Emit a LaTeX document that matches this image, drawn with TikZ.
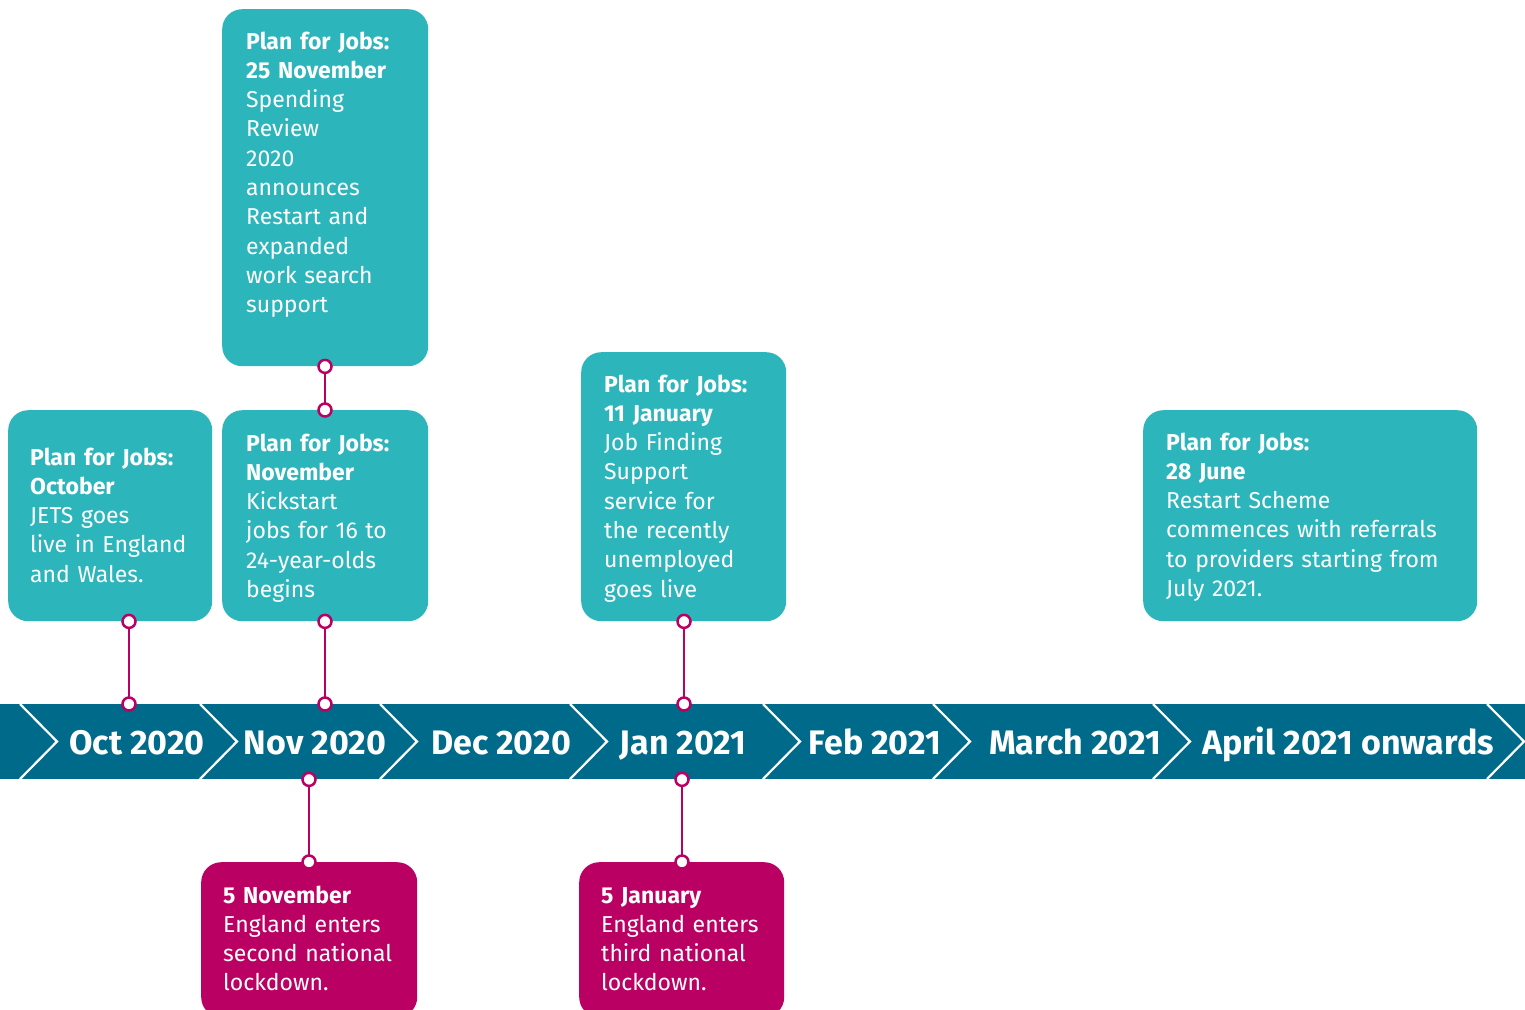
\documentclass[tikz,border=0pt]{standalone}
\usepackage{fontspec}
\setmainfont{Fira Sans}
\definecolor{boxteal}{HTML}{2DB5BC}
\definecolor{bandblue}{HTML}{006A8A}
\definecolor{mag}{HTML}{BA0062}
\begin{document}
\begin{tikzpicture}[x=1pt,y=-1pt,
  box/.style={fill=boxteal, draw=none, rounded corners=20pt, anchor=north west, inner sep=0pt},
  redbox/.style={fill=mag, draw=none, rounded corners=20pt, anchor=north west, inner sep=0pt},
  boxtext/.style={anchor=base west, inner sep=0pt, align=left, text=white, text width=320pt,
    font=\fontsize{23}{29.3}\selectfont},
  month/.style={anchor=base, inner sep=0pt, text=white,
    font=\fontsize{34}{40}\selectfont\bfseries},
  chev/.style={draw=white, line width=2.2pt},
  conn/.style={draw=mag, line width=2.5pt},
  pin/.style={draw=mag, fill=white, line width=2.5pt}
]
\useasboundingbox (0,0) rectangle (1525,1009);

% timeline band
\node[fill=bandblue, anchor=north west, inner sep=0pt, minimum width=1525pt, minimum height=75pt] (band) at (0,704) {};
\foreach \cx in {20,200,380,570,763,933,1153,1487}{
  \draw[chev] (\cx,704) -- (\cx+37,741.5) -- (\cx,779);
}
\node[month] (m1) at (137,754) {Oct 2020};
\node[month] (m2) at (315,754) {Nov 2020};
\node[month] (m3) at (501,754) {Dec 2020};
\node[month] (m4) at (683,754) {Jan 2021};
\node[month] (m5) at (875,754) {Feb 2021};
\node[month] (m6) at (1075,754) {March 2021};
\node[month] (m7) at (1348,754) {April 2021 onwards};

% boxes
\node[box, minimum width=204pt, minimum height=211pt] (A) at (8,410) {};
\node[box, minimum width=206pt, minimum height=357pt] (B) at (222,9) {};
\node[box, minimum width=206pt, minimum height=211pt] (C) at (222,410) {};
\node[box, minimum width=205pt, minimum height=269pt] (D) at (581,352) {};
\node[box, minimum width=334pt, minimum height=211pt] (E) at (1143,410) {};
\node[redbox, minimum width=216pt, minimum height=155pt] (F) at (201,862) {};
\node[redbox, minimum width=205pt, minimum height=155pt] (G) at (579,862) {};

\node[boxtext] (At) at (30,465) {\textbf{Plan for Jobs:}\\\textbf{October}\\JETS goes\\live in England\\and Wales.};
\node[boxtext] (Bt) at (246,49) {\textbf{Plan for Jobs:}\\\textbf{25 November}\\Spending\\Review\\2020\\announces\\Restart and\\expanded\\work search\\support};
\node[boxtext] (Ct) at (246,451) {\textbf{Plan for Jobs:}\\\textbf{November}\\Kickstart\\jobs for 16 to\\24-year-olds\\begins};
\node[boxtext] (Dt) at (604,392) {\textbf{Plan for Jobs:}\\\textbf{11 January}\\Job Finding\\Support\\service for\\the recently\\unemployed\\goes live};
\node[boxtext] (Et) at (1166,450) {\textbf{Plan for Jobs:}\\\textbf{28 June}\\Restart Scheme\\commences with referrals\\to providers starting from\\July 2021.};
\node[boxtext] (Ft) at (223,903) {\textbf{5 November}\\England enters\\second national\\lockdown.};
\node[boxtext] (Gt) at (601,903) {\textbf{5 January}\\England enters\\third national\\lockdown.};

% connectors
\coordinate (xa) at (129,0);
\coordinate (xc) at (325,0);
\coordinate (xd) at (684,0);
\coordinate (xf) at (309,0);
\coordinate (xg) at (682,0);

\draw[conn] (A.south -| xa) -- (band.north -| xa);
\draw[conn] (B.south -| xc) -- (C.north -| xc);
\draw[conn] (C.south -| xc) -- (band.north -| xc);
\draw[conn] (D.south -| xd) -- (band.north -| xd);
\draw[conn] (band.south -| xf) -- (F.north -| xf);
\draw[conn] (band.south -| xg) -- (G.north -| xg);

\foreach \p in {A.south -| xa, band.north -| xa, B.south -| xc, C.north -| xc, C.south -| xc, band.north -| xc, D.south -| xd, band.north -| xd, band.south -| xf, F.north -| xf, band.south -| xg, G.north -| xg}{
  \draw[pin] (\p) circle[radius=6.5pt];
}
\end{tikzpicture}
\end{document}
